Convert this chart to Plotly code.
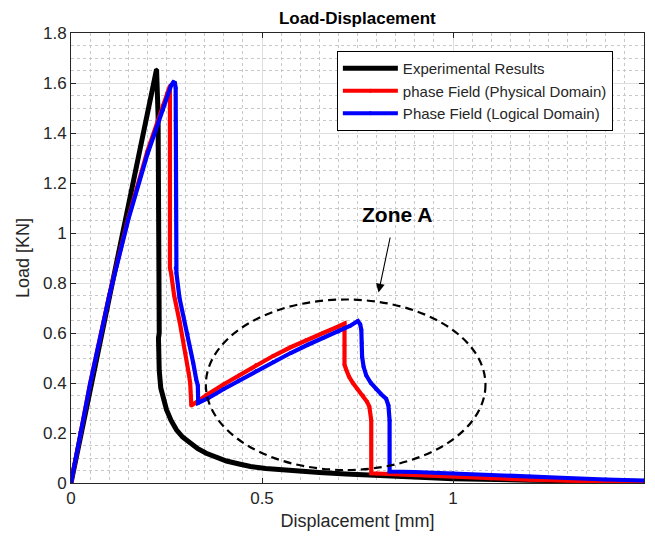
import plotly.graph_objects as go

# Experimental Results
exp_x = [0, 0.05, 0.10, 0.15, 0.20, 0.224, 0.228, 0.231, 0.231, 0.229, 0.229, 0.231, 0.235, 0.242, 0.25, 0.262, 0.276,
         0.292, 0.311, 0.332, 0.354, 0.38, 0.407, 0.44, 0.47, 0.51, 0.55, 0.60, 0.65, 0.72, 0.80, 0.90, 1.0, 1.2, 1.5]
exp_y = [0, 0.37, 0.74, 1.11, 1.48, 1.655, 1.47, 1.0, 0.60, 0.58, 0.52, 0.45, 0.38, 0.33, 0.293, 0.25, 0.213,
         0.184, 0.159, 0.137, 0.119, 0.102, 0.088, 0.076, 0.066, 0.058, 0.052, 0.047, 0.042, 0.036, 0.030, 0.023, 0.017,
         0.011, 0.006]

# phase Field (Physical Domain)
phys_x = [0, 0.025, 0.05, 0.10, 0.15, 0.20, 0.24, 0.252, 0.259, 0.259, 0.259, 0.262, 0.27, 0.285, 0.30, 0.308, 0.312,
          0.315, 0.33, 0.355, 0.40, 0.44, 0.485, 0.529, 0.575, 0.616, 0.66, 0.70, 0.716, 0.716, 0.716, 0.72, 0.728,
          0.738, 0.75, 0.764, 0.775, 0.781, 0.786, 0.786, 0.80, 0.90, 1.0, 1.1, 1.2, 1.3, 1.4, 1.5]
phys_y = [0, 0.204, 0.397, 0.75, 1.06, 1.327, 1.51, 1.56, 1.588, 1.44, 0.86, 0.84, 0.75, 0.64, 0.52, 0.44, 0.40,
          0.31, 0.325, 0.352, 0.395, 0.43, 0.472, 0.508, 0.543, 0.572, 0.60, 0.626, 0.638, 0.55, 0.473, 0.455, 0.425,
          0.40, 0.375, 0.35, 0.325, 0.306, 0.25, 0.039, 0.038, 0.031, 0.024, 0.018, 0.013, 0.009, 0.006, 0.004]

# Phase Field (Logical Domain)
log_x = [0, 0.025, 0.05, 0.10, 0.15, 0.20, 0.24, 0.262, 0.268, 0.272, 0.274, 0.274, 0.274, 0.276, 0.284, 0.305, 0.32,
         0.328, 0.332, 0.333, 0.36, 0.40, 0.44, 0.485, 0.53, 0.575, 0.62, 0.66, 0.70, 0.73, 0.751, 0.757, 0.76,
         0.761, 0.762, 0.766, 0.773, 0.785, 0.799, 0.812, 0.825, 0.831, 0.834, 0.834, 0.90, 1.0, 1.1, 1.2, 1.3,
         1.4, 1.5]
log_y = [0, 0.204, 0.396, 0.748, 1.054, 1.315, 1.491, 1.59, 1.603, 1.60, 1.58, 1.45, 0.86, 0.84, 0.74, 0.596, 0.48,
         0.413, 0.39, 0.32, 0.34, 0.376, 0.41, 0.448, 0.484, 0.52, 0.553, 0.58, 0.606, 0.628, 0.648, 0.635, 0.613,
         0.56, 0.506, 0.465, 0.43, 0.40, 0.375, 0.355, 0.337, 0.31, 0.25, 0.046, 0.044, 0.039, 0.033, 0.026, 0.020,
         0.014, 0.010]

# Zone A ellipse bounds and annotation positions (data units)
zone_x = [0.353, 1.085]
zone_y = [0.052, 0.734]
arrow_head = (0.805, 0.762)
arrow_tail = (0.841, 1.022)
zone_label = (0.853, 1.075)

font = "Liberation Sans, Arial, Helvetica, sans-serif"
txt = "#262626"

fig = go.Figure()
fig.add_trace(go.Scatter(x=exp_x, y=exp_y, mode="lines+markers", name="Experimental Results",
                         line=dict(color="black", width=5), marker=dict(size=3, color="black")))
fig.add_trace(go.Scatter(x=phys_x, y=phys_y, mode="lines+markers", name="phase Field (Physical Domain)",
                         line=dict(color="#ff0000", width=4.2), marker=dict(size=4, color="#ff0000")))
fig.add_trace(go.Scatter(x=log_x, y=log_y, mode="lines+markers", name="Phase Field (Logical Domain)",
                         line=dict(color="#0000ff", width=4.2), marker=dict(size=4, color="#0000ff")))

fig.add_shape(type="circle", xref="x", yref="y", x0=zone_x[0], x1=zone_x[1], y0=zone_y[0], y1=zone_y[1],
              line=dict(color="black", width=2.2, dash="8px,5px"))

fig.add_annotation(x=arrow_head[0], y=arrow_head[1], ax=arrow_tail[0], ay=arrow_tail[1],
                   xref="x", yref="y", axref="x", ayref="y", text=" ", showarrow=True,
                   arrowhead=2, arrowsize=1.6, arrowwidth=1.1, arrowcolor="black")
fig.add_annotation(x=zone_label[0], y=zone_label[1], xref="x", yref="y", text="<b>Zone A</b>",
                   showarrow=False, font=dict(family=font, size=21, color="black"))

axis_common = dict(showline=True, linecolor=txt, linewidth=1, mirror="ticks", ticks="inside",
                   ticklen=5, tickcolor=txt, showgrid=True, gridcolor="#dedede", gridwidth=1,
                   zeroline=False, tickfont=dict(family=font, size=17, color=txt))

fig.update_xaxes(range=[0, 1.5], tickvals=[0, 0.5, 1, 1.5], ticktext=["0", "0.5", "1", "1.5"],
                 minor=dict(dtick=0.05, showgrid=True, gridcolor="#c8c8c8", griddash="dot", gridwidth=1),
                 title=dict(text="Displacement [mm]", font=dict(family=font, size=18, color=txt), standoff=6),
                 **axis_common)
fig.update_yaxes(range=[0, 1.8], tickvals=[0, 0.2, 0.4, 0.6, 0.8, 1, 1.2, 1.4, 1.6, 1.8],
                 ticktext=["0", "0.2", "0.4", "0.6", "0.8", "1", "1.2", "1.4", "1.6", "1.8"],
                 minor=dict(dtick=0.05, showgrid=True, gridcolor="#c8c8c8", griddash="dot", gridwidth=1),
                 title=dict(text="Load [KN]", font=dict(family=font, size=18, color=txt), standoff=8),
                 **axis_common)

fig.update_layout(
    width=655, height=540,
    margin=dict(l=71, r=11, t=33, b=57),
    paper_bgcolor="white", plot_bgcolor="white",
    title=dict(text="<b>Load-Displacement</b>", x=0.5455, xanchor="center", y=0.967, yanchor="middle",
               font=dict(family=font, size=17, color="black")),
    legend=dict(x=0.464, y=0.96, xanchor="left", yanchor="top", bgcolor="white",
                bordercolor="black", borderwidth=1, itemwidth=55,
                font=dict(family=font, size=15, color=txt), tracegroupgap=0),
    showlegend=True,
)

fig.write_html("out.html")
